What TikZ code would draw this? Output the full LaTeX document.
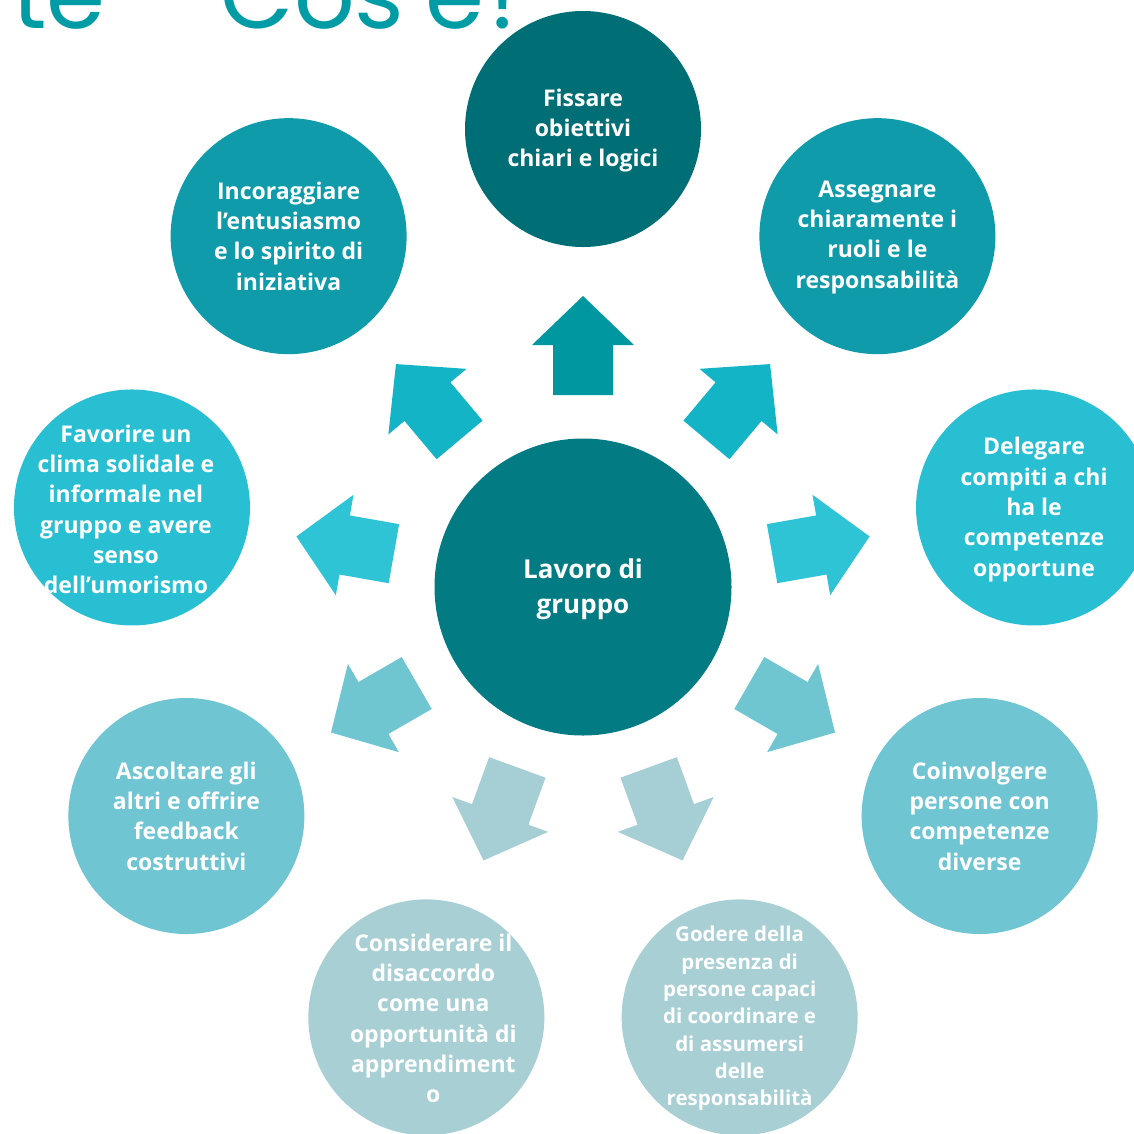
\documentclass[tikz,border=0pt]{standalone}
\usepackage{fontspec}
\setmainfont{Open Sans}
\newfontfamily\titlefont{Poppins}
\definecolor{titlec}{HTML}{009CA6}
\definecolor{cmid}{HTML}{027B82}
\definecolor{cone}{HTML}{006F75}
\definecolor{ctwo}{HTML}{0F9BAA}
\definecolor{cthree}{HTML}{29BFD3}
\definecolor{cfour}{HTML}{6FC5D1}
\definecolor{cfive}{HTML}{A8CFD4}
\definecolor{aone}{HTML}{0097A1}
\definecolor{atwo}{HTML}{13B4C5}
\definecolor{athree}{HTML}{2EC4D6}
\definecolor{afour}{HTML}{70C6D0}
\definecolor{afive}{HTML}{A6CFD5}
\newcommand\blockarr[2]{%
  \fill[#2, shift={(mid.center)}, rotate=#1]
    (192,-30) -- (242,-30) -- (242,-51) -- (291,0) -- (242,51) -- (242,30) -- (192,30) -- cycle;}
\begin{document}
\begin{tikzpicture}[x=1pt,y=1pt,
  disc/.style={circle, minimum size=236, inner sep=0},
  txt/.style={inner sep=0, text=white, align=center,
    font=\bfseries\fontsize{23}{30.3}\selectfont},
  txtsmall/.style={txt, font=\bfseries\fontsize{20.5}{27.3}\selectfont},
  hub/.style={circle, minimum size=297, inner sep=0, fill=cmid}]
\useasboundingbox (0,0) rectangle (1134,-1133);
\clip (0,0) rectangle (1134,-1133);
\node[anchor=base west, text=titlec, inner sep=0,
  font=\titlefont\fontsize{95}{95}\selectfont] (title) at (12,-28) {te – Cos’è?};
\node[hub] (mid) at (583,-587) {};
\node[txt, font=\bfseries\fontsize{26}{35}\selectfont] (tmid) at ([yshift=-2]mid.center) {Lavoro di\\gruppo};
\path (mid.center) ++(90:458)  node[disc, fill=cone]   (n1) {};
\path (mid.center) ++(50:458)  node[disc, fill=ctwo]   (n2) {};
\path (mid.center) ++(10:458)  node[disc, fill=cthree] (n3) {};
\path (mid.center) ++(330:458) node[disc, fill=cfour]  (n4) {};
\path (mid.center) ++(290:458) node[disc, fill=cfive]  (n5) {};
\path (mid.center) ++(250:458) node[disc, fill=cfive]  (n6) {};
\path (mid.center) ++(210:458) node[disc, fill=cfour]  (n7) {};
\path (mid.center) ++(170:458) node[disc, fill=cthree] (n8) {};
\path (mid.center) ++(130:458) node[disc, fill=ctwo]   (n9) {};
\node[txt] (t1) at ([yshift=-1.5]n1.center) {Fissare\\obiettivi\\chiari e logici};
\node[txt] (t2) at ([yshift=-1]n2.center) {Assegnare\\chiaramente i\\ruoli e le\\responsabilità};
\node[txt] (t3) at ([yshift=-2]n3.center) {Delegare\\compiti a chi\\ha le\\competenze\\opportune};
\node[txt] (t4) at ([yshift=0]n4.center) {Coinvolgere\\persone con\\competenze\\diverse};
\node[txtsmall] (t5) at ([yshift=-1]n5.center) {Godere della\\presenza di\\persone capaci\\di coordinare e\\di assumersi\\delle\\responsabilità};
\node[txt] (t6) at ([xshift=7,yshift=-1]n6.center) {Considerare il\\disaccordo\\come una\\opportunità di\\apprendiment\\o};
\node[txt] (t7) at ([yshift=0]n7.center) {Ascoltare gli\\altri e offrire\\feedback\\costruttivi};
\node[txt] (t8) at ([xshift=-6,yshift=-2]n8.center) {Favorire un\\clima solidale e\\informale nel\\gruppo e avere\\senso\\dell’umorismo};
\node[txt] (t9) at ([yshift=0]n9.center) {Incoraggiare\\l’entusiasmo\\e lo spirito di\\iniziativa};
\blockarr{90}{aone}
\blockarr{50}{atwo}
\blockarr{130}{atwo}
\blockarr{10}{athree}
\blockarr{170}{athree}
\blockarr{330}{afour}
\blockarr{210}{afour}
\blockarr{290}{afive}
\blockarr{250}{afive}
\end{tikzpicture}
\end{document}
